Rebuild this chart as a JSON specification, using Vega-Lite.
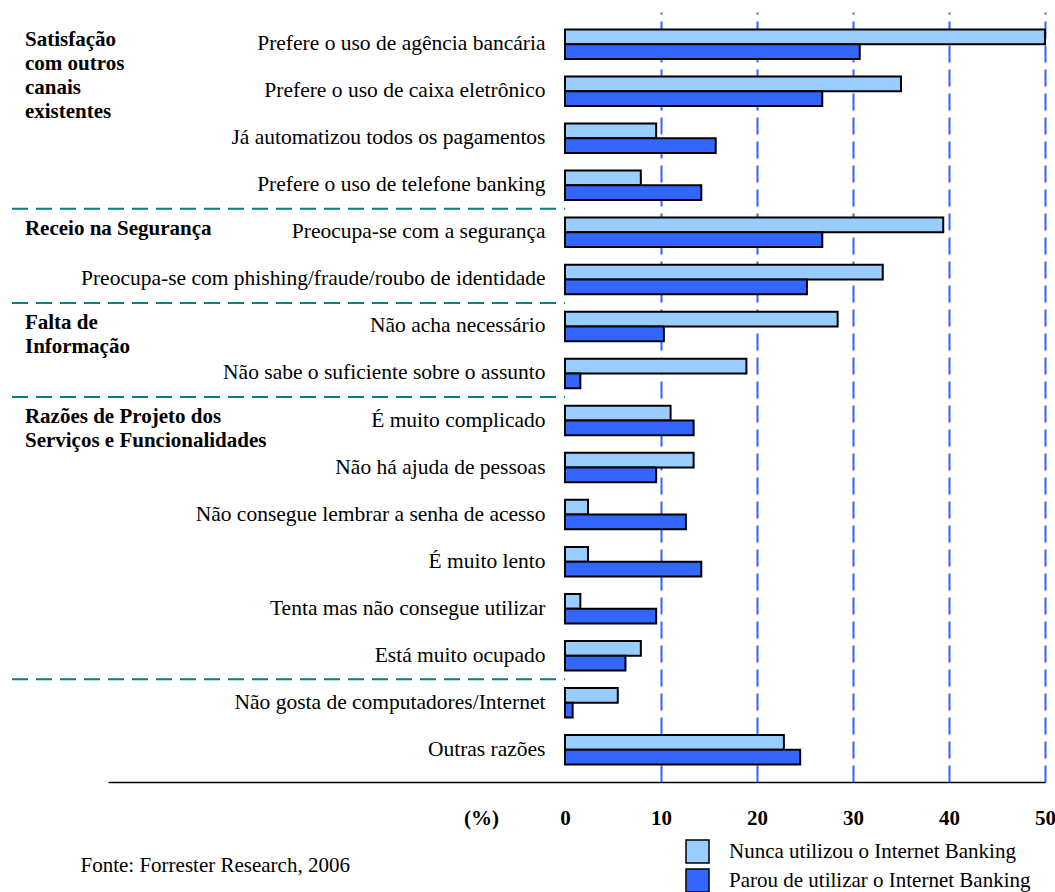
{
  "$schema": "https://vega.github.io/schema/vega-lite/v6.json",
  "width": 937,
  "height": 770,
  "autosize": {"type": "none"},
  "padding": {"left": 108, "top": 12, "right": 10, "bottom": 110},
  "background": "white",
  "config": {"view": {"stroke": null}, "font": "Liberation Serif"},
  "datasets": {
    "barras": [
      {"motivo": "Prefere o uso de agência bancária", "serie": "Nunca utilizou o Internet Banking", "pct": 50.0},
      {"motivo": "Prefere o uso de agência bancária", "serie": "Parou de utilizar o Internet Banking", "pct": 30.7},
      {"motivo": "Prefere o uso de caixa eletrônico", "serie": "Nunca utilizou o Internet Banking", "pct": 35.0},
      {"motivo": "Prefere o uso de caixa eletrônico", "serie": "Parou de utilizar o Internet Banking", "pct": 26.8},
      {"motivo": "Já automatizou todos os pagamentos", "serie": "Nunca utilizou o Internet Banking", "pct": 9.5},
      {"motivo": "Já automatizou todos os pagamentos", "serie": "Parou de utilizar o Internet Banking", "pct": 15.7},
      {"motivo": "Prefere o uso de telefone banking", "serie": "Nunca utilizou o Internet Banking", "pct": 7.9},
      {"motivo": "Prefere o uso de telefone banking", "serie": "Parou de utilizar o Internet Banking", "pct": 14.2},
      {"motivo": "Preocupa-se com a segurança", "serie": "Nunca utilizou o Internet Banking", "pct": 39.4},
      {"motivo": "Preocupa-se com a segurança", "serie": "Parou de utilizar o Internet Banking", "pct": 26.8},
      {"motivo": "Preocupa-se com phishing/fraude/roubo de identidade", "serie": "Nunca utilizou o Internet Banking", "pct": 33.1},
      {"motivo": "Preocupa-se com phishing/fraude/roubo de identidade", "serie": "Parou de utilizar o Internet Banking", "pct": 25.2},
      {"motivo": "Não acha necessário", "serie": "Nunca utilizou o Internet Banking", "pct": 28.4},
      {"motivo": "Não acha necessário", "serie": "Parou de utilizar o Internet Banking", "pct": 10.3},
      {"motivo": "Não sabe o suficiente sobre o assunto", "serie": "Nunca utilizou o Internet Banking", "pct": 18.9},
      {"motivo": "Não sabe o suficiente sobre o assunto", "serie": "Parou de utilizar o Internet Banking", "pct": 1.6},
      {"motivo": "É muito complicado", "serie": "Nunca utilizou o Internet Banking", "pct": 11.0},
      {"motivo": "É muito complicado", "serie": "Parou de utilizar o Internet Banking", "pct": 13.4},
      {"motivo": "Não há ajuda de pessoas", "serie": "Nunca utilizou o Internet Banking", "pct": 13.4},
      {"motivo": "Não há ajuda de pessoas", "serie": "Parou de utilizar o Internet Banking", "pct": 9.5},
      {"motivo": "Não consegue lembrar a senha de acesso", "serie": "Nunca utilizou o Internet Banking", "pct": 2.4},
      {"motivo": "Não consegue lembrar a senha de acesso", "serie": "Parou de utilizar o Internet Banking", "pct": 12.6},
      {"motivo": "É muito lento", "serie": "Nunca utilizou o Internet Banking", "pct": 2.4},
      {"motivo": "É muito lento", "serie": "Parou de utilizar o Internet Banking", "pct": 14.2},
      {"motivo": "Tenta mas não consegue utilizar", "serie": "Nunca utilizou o Internet Banking", "pct": 1.6},
      {"motivo": "Tenta mas não consegue utilizar", "serie": "Parou de utilizar o Internet Banking", "pct": 9.5},
      {"motivo": "Está muito ocupado", "serie": "Nunca utilizou o Internet Banking", "pct": 7.9},
      {"motivo": "Está muito ocupado", "serie": "Parou de utilizar o Internet Banking", "pct": 6.3},
      {"motivo": "Não gosta de computadores/Internet", "serie": "Nunca utilizou o Internet Banking", "pct": 5.5},
      {"motivo": "Não gosta de computadores/Internet", "serie": "Parou de utilizar o Internet Banking", "pct": 0.8},
      {"motivo": "Outras razões", "serie": "Nunca utilizou o Internet Banking", "pct": 22.8},
      {"motivo": "Outras razões", "serie": "Parou de utilizar o Internet Banking", "pct": 24.5}
    ],
    "separadores": [
      {"apos": "Prefere o uso de telefone banking"},
      {"apos": "Preocupa-se com phishing/fraude/roubo de identidade"},
      {"apos": "Não sabe o suficiente sobre o assunto"},
      {"apos": "Está muito ocupado"}
    ],
    "grupos": [
      {"primeiro": "Prefere o uso de agência bancária", "grupo": "Satisfação\ncom outros\ncanais\nexistentes"},
      {"primeiro": "Preocupa-se com a segurança", "grupo": "Receio na Segurança"},
      {"primeiro": "Não acha necessário", "grupo": "Falta de\nInformação"},
      {"primeiro": "É muito complicado", "grupo": "Razões de Projeto dos\nServiços e Funcionalidades"}
    ]
  },
  "layer": [
    {
      "data": {"name": "barras"},
      "mark": {"type": "bar", "stroke": "black", "strokeWidth": 2},
      "encoding": {
        "y": {
          "field": "motivo",
          "type": "nominal",
          "title": null,
          "scale": {
            "domain": [
              "Prefere o uso de agência bancária",
              "Prefere o uso de caixa eletrônico",
              "Já automatizou todos os pagamentos",
              "Prefere o uso de telefone banking",
              "Preocupa-se com a segurança",
              "Preocupa-se com phishing/fraude/roubo de identidade",
              "Não acha necessário",
              "Não sabe o suficiente sobre o assunto",
              "É muito complicado",
              "Não há ajuda de pessoas",
              "Não consegue lembrar a senha de acesso",
              "É muito lento",
              "Tenta mas não consegue utilizar",
              "Está muito ocupado",
              "Não gosta de computadores/Internet",
              "Outras razões"
            ],
            "paddingInner": 0.373,
            "paddingOuter": 0.37
          },
          "axis": {
            "orient": "left",
            "offset": -457,
            "domain": false,
            "ticks": false,
            "grid": false,
            "labelPadding": 20,
            "labelFont": "Liberation Serif",
            "labelFontSize": 21.5,
            "labelColor": "black",
            "labelLimit": 1000,
            "title": null
          }
        },
        "yOffset": {
          "field": "serie",
          "type": "nominal",
          "sort": ["Nunca utilizou o Internet Banking", "Parou de utilizar o Internet Banking"],
          "scale": {"paddingInner": 0, "paddingOuter": 0}
        },
        "x": {
          "field": "pct",
          "type": "quantitative",
          "scale": {"domain": [-47.6, 50], "nice": false},
          "axis": {
            "values": [-8.75, 0, 10, 20, 30, 40, 50],
            "labelExpr": "datum.value < 0 ? '(%)' : datum.label",
            "grid": true,
            "gridColor": "#3366FF",
            "gridDash": [17, 7],
            "gridWidth": 2,
            "gridOpacity": {"condition": {"test": "datum.value <= 0", "value": 0}, "value": 1},
            "ticks": false,
            "tickSize": 0,
            "domain": true,
            "domainColor": "black",
            "domainWidth": 1.5,
            "labelFont": "Liberation Serif",
            "labelFontSize": 21,
            "labelFontWeight": "bold",
            "labelColor": "black",
            "labelPadding": 25,
            "labelFlush": false,
            "labelOverlap": false,
            "labelBaseline": "top",
            "title": "Fonte: Forrester Research, 2006",
            "titleFont": "Liberation Serif",
            "titleFontSize": 21,
            "titleFontWeight": "normal",
            "titleColor": "black",
            "titleX": -28,
            "titleY": 83,
            "titleAlign": "left",
            "titleAnchor": "start",
            "titleBaseline": "middle"
          }
        },
        "color": {
          "field": "serie",
          "type": "nominal",
          "scale": {
            "domain": ["Nunca utilizou o Internet Banking", "Parou de utilizar o Internet Banking"],
            "range": ["#99CCFF", "#3366FF"]
          },
          "legend": {
            "orient": "none",
            "legendX": 577,
            "legendY": 827,
            "title": null,
            "direction": "vertical",
            "symbolType": "square",
            "symbolSize": 529,
            "symbolStrokeColor": "black",
            "symbolStrokeWidth": 1.5,
            "symbolOpacity": 1,
            "labelFont": "Liberation Serif",
            "labelFontSize": 21,
            "labelColor": "black",
            "labelOffset": 19,
            "labelLimit": 1000,
            "rowPadding": 0,
            "padding": 0
          }
        }
      }
    },
    {
      "mark": {"type": "rule", "color": "black", "strokeWidth": 1.5},
      "encoding": {"x": {"datum": 0, "type": "quantitative"}}
    },
    {
      "data": {"name": "separadores"},
      "mark": {"type": "rule", "color": "#008080", "strokeWidth": 2, "strokeDash": [16, 8]},
      "encoding": {
        "y": {"field": "apos", "type": "nominal", "bandPosition": 1.297, "title": null},
        "x": {"datum": -57.6, "type": "quantitative"},
        "x2": {"datum": 0}
      }
    },
    {
      "data": {"name": "grupos"},
      "mark": {
        "type": "text",
        "align": "left",
        "baseline": "top",
        "font": "Liberation Serif",
        "fontSize": 21,
        "fontWeight": "bold",
        "lineBreak": "\n",
        "lineHeight": 24,
        "color": "black"
      },
      "encoding": {
        "y": {"field": "primeiro", "type": "nominal", "bandPosition": 0, "title": null},
        "x": {"datum": -56.25, "type": "quantitative"},
        "text": {"field": "grupo"}
      }
    }
  ]
}
